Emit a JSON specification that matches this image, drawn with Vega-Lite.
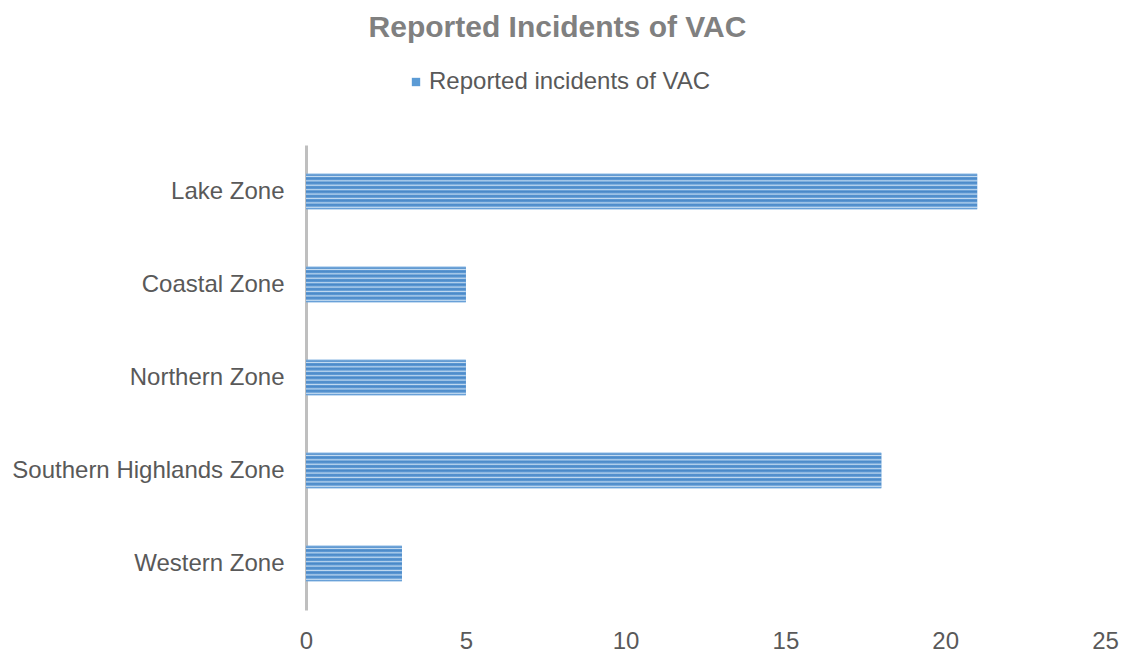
{
  "$schema": "https://vega.github.io/schema/vega-lite/v6.json",
  "autosize": "none",
  "width": 799,
  "height": 465,
  "padding": {"left": 306, "top": 145, "right": 19, "bottom": 45},
  "background": "white",
  "title": {
    "text": "Reported Incidents of VAC",
    "anchor": "middle",
    "dx": -148,
    "offset": 27,
    "font": "Liberation Sans",
    "fontSize": 30,
    "fontWeight": "bold",
    "color": "#808080"
  },
  "data": {
    "values": [
      {"zone": "Lake Zone", "incidents": 21, "series": "Reported incidents of VAC"},
      {"zone": "Coastal Zone", "incidents": 5, "series": "Reported incidents of VAC"},
      {"zone": "Northern Zone", "incidents": 5, "series": "Reported incidents of VAC"},
      {"zone": "Southern Highlands Zone", "incidents": 18, "series": "Reported incidents of VAC"},
      {"zone": "Western Zone", "incidents": 3, "series": "Reported incidents of VAC"}
    ]
  },
  "encoding": {
    "y": {
      "field": "zone",
      "type": "nominal",
      "sort": null,
      "title": null,
      "scale": {"paddingInner": 0.62, "paddingOuter": 0.31},
      "axis": {
        "ticks": false,
        "domainColor": "#BFBFBF",
        "domainWidth": 3,
        "labelFont": "Liberation Sans",
        "labelFontSize": 24,
        "labelColor": "#595959",
        "labelPadding": 22,
        "labelLimit": 0,
        "grid": false
      }
    },
    "x": {
      "field": "incidents",
      "type": "quantitative",
      "title": null,
      "scale": {"domain": [0, 25]},
      "axis": {
        "values": [0, 5, 10, 15, 20, 25],
        "domain": false,
        "ticks": false,
        "grid": false,
        "labelFont": "Liberation Sans",
        "labelFontSize": 24,
        "labelColor": "#595959",
        "labelPadding": 19,
        "labelFlush": false
      }
    }
  },
  "layer": [
    {
      "mark": {"type": "bar"},
      "encoding": {
        "color": {
          "field": "series",
          "type": "nominal",
          "scale": {"range": ["#5B9BD5"]},
          "legend": {
            "title": null,
            "orient": "none",
            "legendX": 98,
            "legendY": -75,
            "symbolType": "square",
            "symbolSize": 70,
            "symbolStrokeWidth": 0,
            "labelFont": "Liberation Sans",
            "labelFontSize": 24,
            "labelColor": "#595959",
            "labelOffset": 1,
            "labelLimit": 0
          }
        }
      }
    },
    {
      "mark": {
        "type": "bar",
        "fill": {
          "gradient": "linear",
          "x1": 0, "y1": 0, "x2": 0, "y2": 1,
          "stops": [
            {"offset": 0, "color": "#8FBBE6"},
            {"offset": 0.04, "color": "#4A89C8"},
            {"offset": 0.075, "color": "#C5DCF1"},
            {"offset": 0.1, "color": "#5D98D3"},
            {"offset": 0.125, "color": "#4A89C8"},
            {"offset": 0.165, "color": "#5D98D3"},
            {"offset": 0.2, "color": "#C5DCF1"},
            {"offset": 0.225, "color": "#5D98D3"},
            {"offset": 0.25, "color": "#4A89C8"},
            {"offset": 0.29, "color": "#5D98D3"},
            {"offset": 0.325, "color": "#C5DCF1"},
            {"offset": 0.35, "color": "#5D98D3"},
            {"offset": 0.375, "color": "#4A89C8"},
            {"offset": 0.415, "color": "#5D98D3"},
            {"offset": 0.45, "color": "#C5DCF1"},
            {"offset": 0.475, "color": "#5D98D3"},
            {"offset": 0.5, "color": "#4A89C8"},
            {"offset": 0.54, "color": "#5D98D3"},
            {"offset": 0.575, "color": "#C5DCF1"},
            {"offset": 0.6, "color": "#5D98D3"},
            {"offset": 0.625, "color": "#4A89C8"},
            {"offset": 0.665, "color": "#5D98D3"},
            {"offset": 0.7, "color": "#C5DCF1"},
            {"offset": 0.725, "color": "#5D98D3"},
            {"offset": 0.75, "color": "#4A89C8"},
            {"offset": 0.79, "color": "#5D98D3"},
            {"offset": 0.825, "color": "#C5DCF1"},
            {"offset": 0.85, "color": "#5D98D3"},
            {"offset": 0.875, "color": "#4A89C8"},
            {"offset": 0.915, "color": "#5D98D3"},
            {"offset": 0.95, "color": "#C5DCF1"},
            {"offset": 0.975, "color": "#5D98D3"},
            {"offset": 1, "color": "#8FBBE6"}
          ]
        }
      }
    }
  ],
  "config": {
    "view": {"stroke": null}
  }
}
